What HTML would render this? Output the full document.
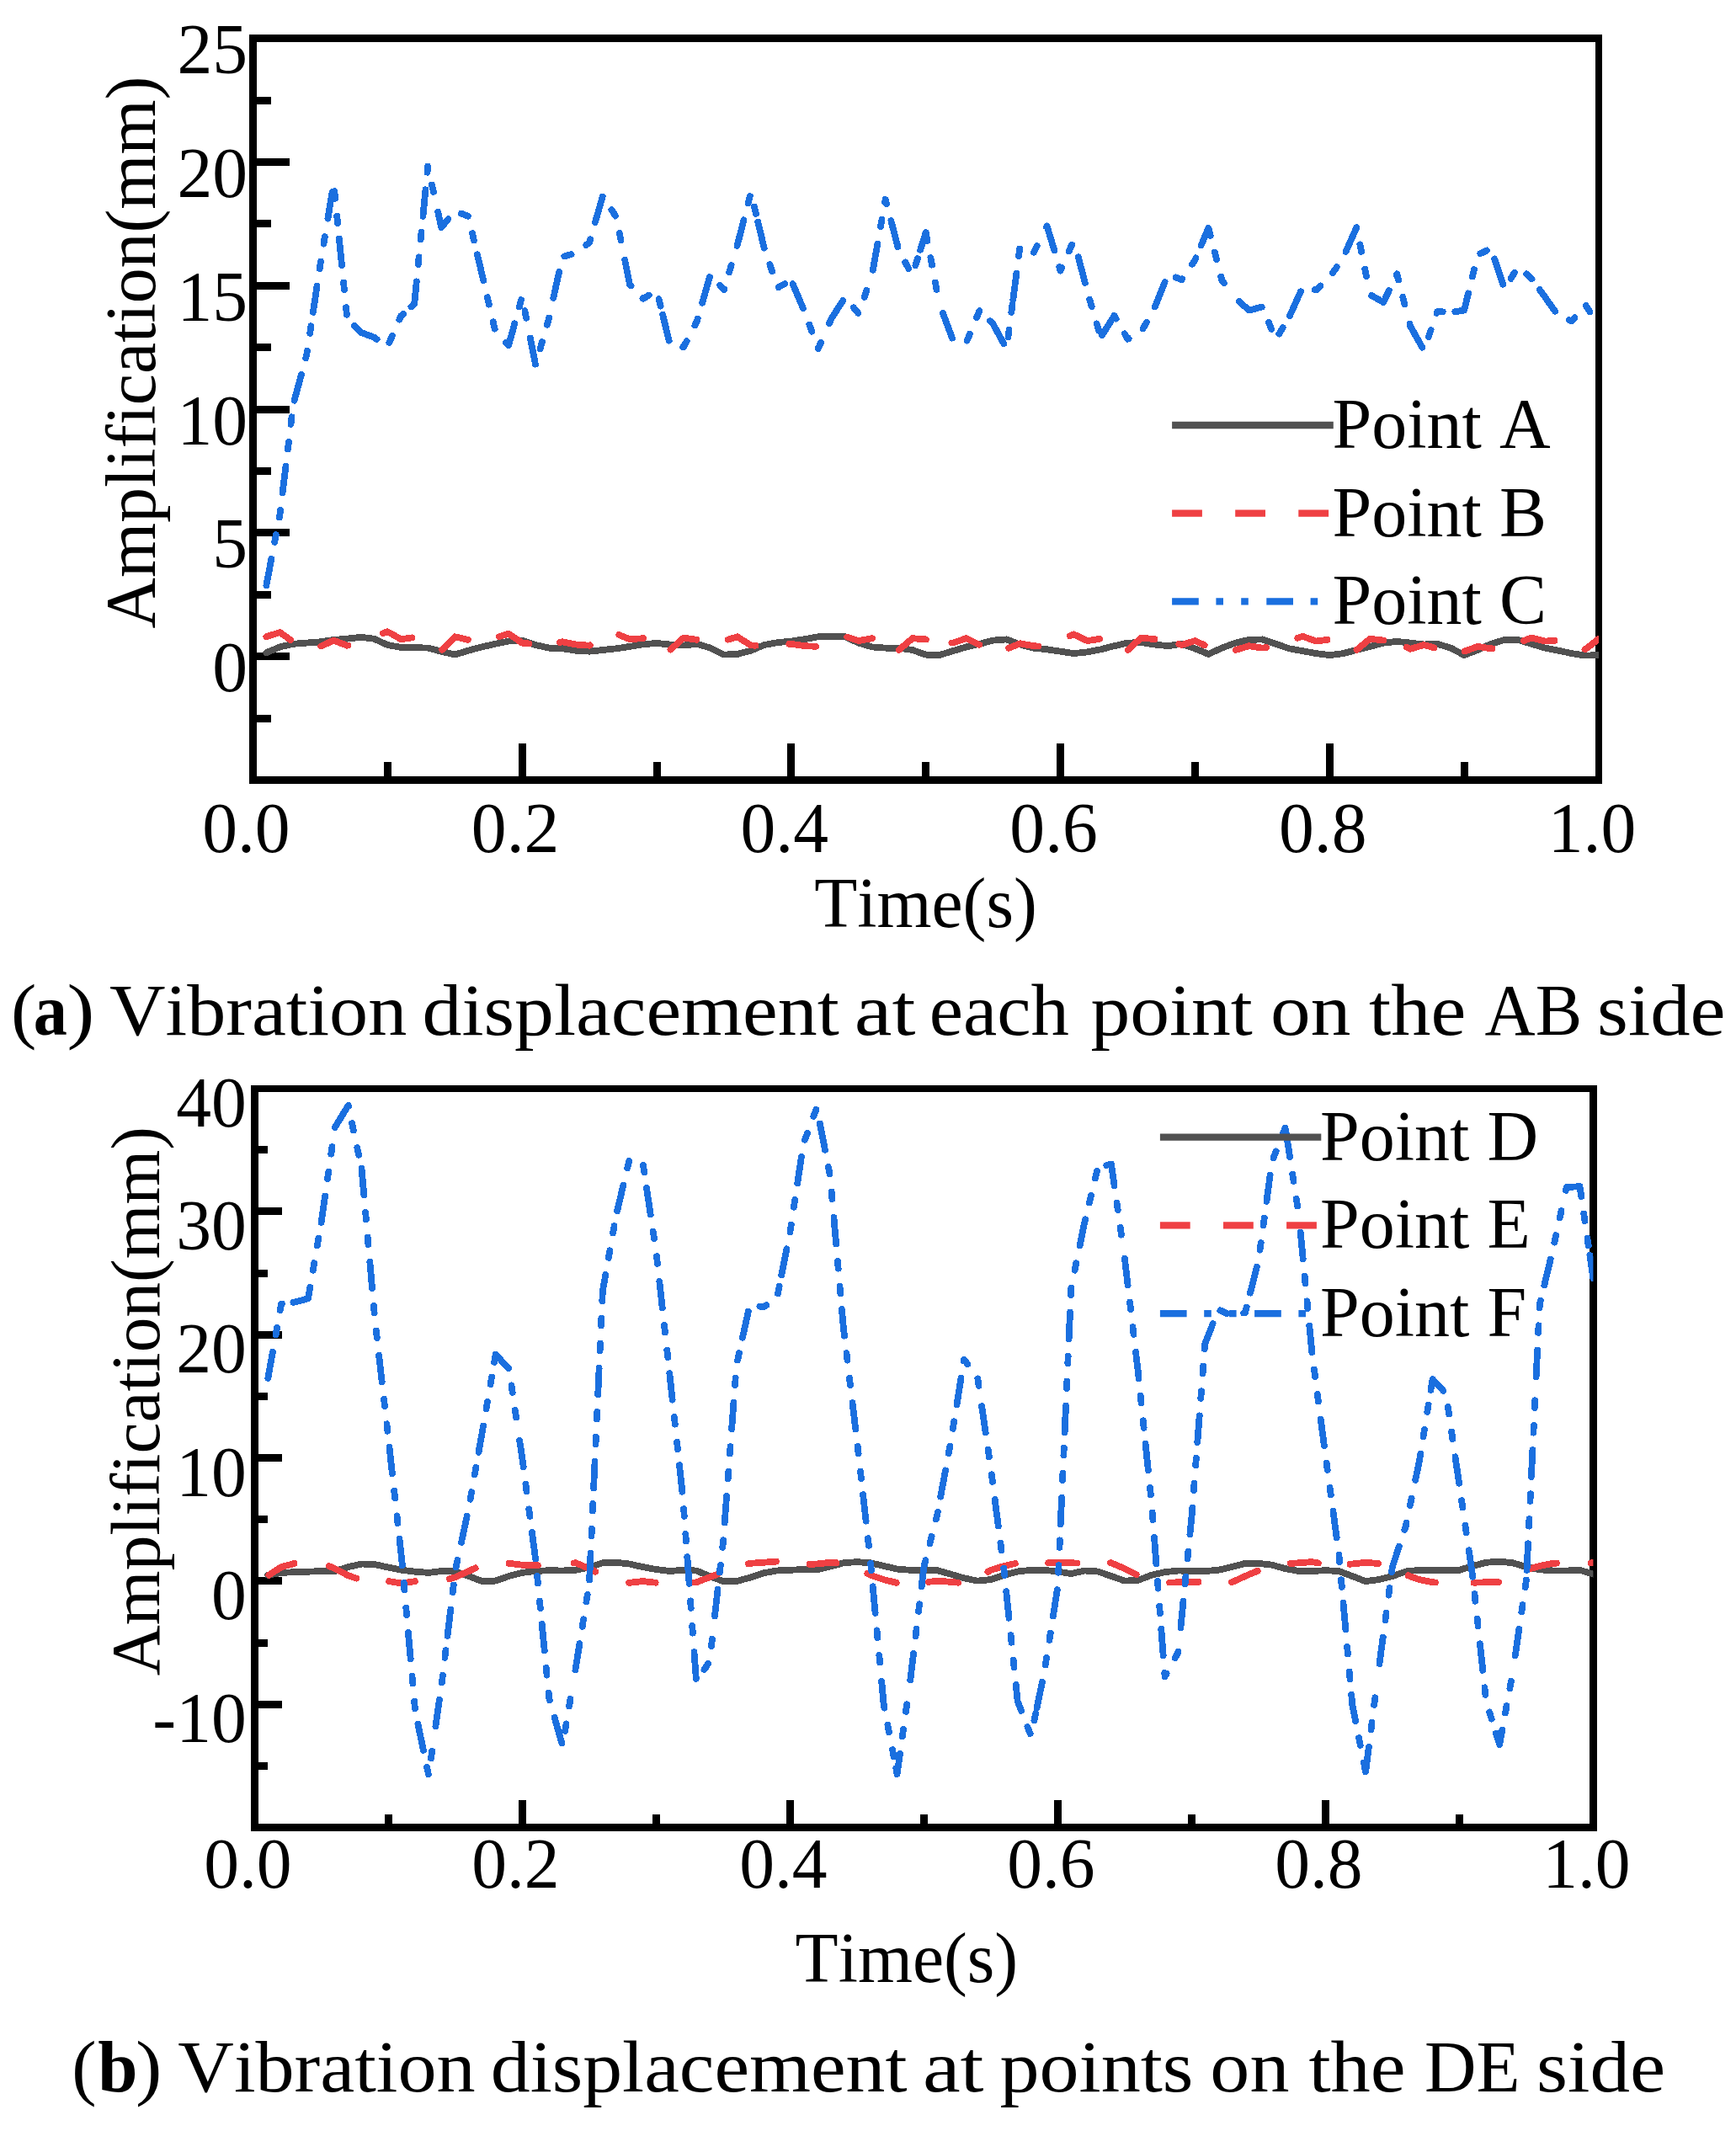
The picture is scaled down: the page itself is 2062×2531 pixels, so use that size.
<!DOCTYPE html>
<html lang="en"><head><meta charset="utf-8"><title>Vibration displacement</title>
<style>html,body{margin:0;padding:0;background:#fff}svg{display:block}text{font-family:"Liberation Serif","Times New Roman",serif;fill:#000;font-variant-ligatures:none;font-kerning:none}.t{font-size:83.6px}</style></head><body>
<svg width="2062" height="2531" viewBox="0 0 2062 2531">
<rect width="2062" height="2531" fill="#fff"/>
<g stroke="#000" stroke-width="9" fill="none" shape-rendering="crispEdges">
<line x1="300.4" y1="779.6" x2="343.9" y2="779.6"/>
<line x1="300.4" y1="632.8" x2="343.9" y2="632.8"/>
<line x1="300.4" y1="486.0" x2="343.9" y2="486.0"/>
<line x1="300.4" y1="339.3" x2="343.9" y2="339.3"/>
<line x1="300.4" y1="192.5" x2="343.9" y2="192.5"/>
<line x1="300.4" y1="853.0" x2="322.0" y2="853.0"/>
<line x1="300.4" y1="706.2" x2="322.0" y2="706.2"/>
<line x1="300.4" y1="559.4" x2="322.0" y2="559.4"/>
<line x1="300.4" y1="412.6" x2="322.0" y2="412.6"/>
<line x1="300.4" y1="265.9" x2="322.0" y2="265.9"/>
<line x1="300.4" y1="119.1" x2="322.0" y2="119.1"/>
<line x1="460.3" y1="926.3" x2="460.3" y2="904.7"/>
<line x1="620.1" y1="926.3" x2="620.1" y2="882.8"/>
<line x1="780.0" y1="926.3" x2="780.0" y2="904.7"/>
<line x1="939.8" y1="926.3" x2="939.8" y2="882.8"/>
<line x1="1099.7" y1="926.3" x2="1099.7" y2="904.7"/>
<line x1="1259.6" y1="926.3" x2="1259.6" y2="882.8"/>
<line x1="1419.4" y1="926.3" x2="1419.4" y2="904.7"/>
<line x1="1579.3" y1="926.3" x2="1579.3" y2="882.8"/>
<line x1="1739.1" y1="926.3" x2="1739.1" y2="904.7"/>
</g>
<rect x="300.4" y="45.6" width="1598.6" height="880.7" fill="none" stroke="#000" stroke-width="8.8" shape-rendering="crispEdges"/>
<clipPath id="clip1"><rect x="300.4" y="45.6" width="1598.6" height="880.7"/></clipPath>
<g fill="none" stroke-linejoin="round" stroke-linecap="round" stroke-width="7.8" shape-rendering="crispEdges" clip-path="url(#clip1)">
<path d="M316.4,775.2 L332.4,768.4 L348.4,764.8 L364.3,763.6 L380.3,762.3 L396.3,759.9 L412.3,758.7 L428.3,756.8 L444.3,758.7 L460.3,766.0 L476.2,768.9 L492.2,769.1 L508.2,769.6 L524.2,773.7 L540.2,777.6 L556.2,772.7 L572.2,768.4 L588.1,764.8 L604.1,761.6 L620.1,760.6 L636.1,766.0 L652.1,769.6 L668.1,770.3 L684.1,772.7 L700.0,773.7 L716.0,772.0 L732.0,770.3 L748.0,767.9 L764.0,765.2 L780.0,764.0 L796.0,765.5 L812.0,766.5 L827.9,764.8 L843.9,769.6 L859.9,777.6 L875.9,776.9 L891.9,772.7 L907.9,766.0 L923.9,763.1 L939.8,761.6 L955.8,759.2 L971.8,756.3 L987.8,755.6 L1003.8,756.3 L1019.8,763.6 L1035.8,768.4 L1051.7,769.6 L1067.7,769.6 L1083.7,772.0 L1099.7,777.6 L1115.7,778.1 L1131.7,773.2 L1147.7,768.4 L1163.6,764.8 L1179.6,760.6 L1195.6,759.4 L1211.6,765.5 L1227.6,769.6 L1243.6,771.3 L1259.6,773.7 L1275.5,776.1 L1291.5,774.4 L1307.5,771.3 L1323.5,767.2 L1339.5,763.6 L1355.5,763.1 L1371.5,765.5 L1387.4,767.2 L1403.4,764.8 L1419.4,770.3 L1435.4,776.9 L1451.4,769.6 L1467.4,763.6 L1483.4,759.9 L1499.3,759.4 L1515.3,764.8 L1531.3,770.3 L1547.3,773.2 L1563.3,776.1 L1579.3,778.1 L1595.3,776.1 L1611.3,772.0 L1627.2,767.9 L1643.2,763.6 L1659.2,761.9 L1675.2,763.6 L1691.2,765.5 L1707.2,764.8 L1723.2,769.6 L1739.1,778.1 L1755.1,772.0 L1771.1,764.8 L1787.1,759.9 L1803.1,759.9 L1819.1,764.8 L1835.1,769.6 L1851.0,772.7 L1867.0,776.1 L1883.0,778.6 L1899.0,778.1" stroke="#515151"/>
<g stroke="#EF4043">
<path d="M316.4,756.3 L332.4,751.0 L345.1,760.0"/>
<path d="M381.2,767.5 L396.3,760.6 L412.3,766.7 L413.4,766.6"/>
<path d="M455.0,752.2 L460.3,750.2 L476.2,759.2 L489.1,757.4"/>
<path d="M525.2,771.7 L540.2,756.3 L555.7,759.8"/>
<path d="M592.9,756.1 L604.1,752.7 L620.1,763.6 L628.2,764.5"/>
<path d="M665.0,762.9 L668.1,762.3 L684.1,765.5 L700.0,766.7 L700.8,766.4"/>
<path d="M735.3,754.0 L748.0,759.2 L764.0,758.2 L764.0,758.2"/>
<path d="M796.5,771.5 L812.0,757.5 L827.4,759.8"/>
<path d="M864.7,759.7 L875.9,756.3 L891.9,766.5 L897.6,766.7"/>
<path d="M937.3,764.8 L939.8,764.8 L955.8,767.2 L969.0,767.8"/>
<path d="M1006.2,756.6 L1019.8,761.1 L1035.8,758.2 L1036.0,758.3"/>
<path d="M1067.9,771.9 L1083.7,758.2 L1099.7,759.4 L1100.0,759.5"/>
<path d="M1130.4,763.5 L1131.7,763.6 L1147.7,758.2 L1163.1,765.7"/>
<path d="M1198.2,769.8 L1211.6,764.3 L1227.6,767.2 L1233.5,767.6"/>
<path d="M1270.8,755.3 L1275.5,753.4 L1291.5,761.1 L1306.0,758.9"/>
<path d="M1339.7,771.8 L1355.5,757.5 L1371.4,759.2"/>
<path d="M1400.2,765.0 L1403.4,766.0 L1419.4,761.1 L1430.6,766.2"/>
<path d="M1467.9,771.9 L1483.4,767.2 L1499.3,769.6 L1504.0,769.2"/>
<path d="M1541.3,757.8 L1547.3,755.8 L1563.3,761.6 L1576.6,759.8"/>
<path d="M1611.5,771.8 L1627.2,758.7 L1643.1,760.6"/>
<path d="M1670.8,768.8 L1675.2,770.8 L1691.2,766.0 L1703.6,769.4"/>
<path d="M1739.7,773.5 L1755.1,767.9 L1771.1,770.3 L1772.6,770.3"/>
<path d="M1809.9,761.0 L1819.1,757.5 L1835.1,761.6 L1846.4,760.9"/>
<path d="M1882.5,771.1 L1883.0,771.3 L1899.0,758.7"/>
</g>
<g stroke="#1A6FDF" stroke-dasharray="31.7 20.6 8.6 21.2 8.6 300">
<path d="M316.4,695.1 L332.4,611.5 L335.6,585.3"/>
<path d="M335.6,585.3 L348.4,480.0 L349.6,475.6"/>
<path d="M349.6,475.6 L364.3,421.3 L371.9,370.8"/>
<path d="M371.9,370.8 L380.3,314.9 L389.4,259.6"/>
<path d="M389.4,259.6 L396.3,217.5 L402.9,283.5"/>
<path d="M402.9,283.5 L412.3,377.8 L421.0,387.0"/>
<path d="M421.0,387.0 L428.3,394.7 L444.3,400.7 L460.3,411.6 L476.2,375.3 L488.4,364.3"/>
<path d="M488.4,364.3 L492.2,360.8 L502.4,256.8"/>
<path d="M502.4,256.8 L508.2,197.5 L520.1,251.6"/>
<path d="M520.1,251.6 L524.2,270.1 L540.2,250.7 L556.2,256.8 L566.9,302.3"/>
<path d="M566.9,302.3 L572.2,324.5 L588.1,392.3 L601.0,406.8"/>
<path d="M601.0,406.8 L604.1,410.4 L620.1,352.4 L629.8,401.5"/>
<path d="M629.8,401.5 L636.1,433.4 L652.1,377.8 L657.3,354.0"/>
<path d="M657.3,354.0 L668.1,305.2 L684.1,300.3 L700.0,288.2 L707.0,264.0"/>
<path d="M707.0,264.0 L716.0,232.6 L732.0,258.0 L742.2,308.8"/>
<path d="M742.2,308.8 L748.0,337.8 L764.0,354.8 L780.0,345.1 L787.1,373.8"/>
<path d="M787.1,373.8 L796.0,409.7 L812.0,412.1 L827.9,381.4 L834.2,359.7"/>
<path d="M834.2,359.7 L843.9,325.7 L859.9,344.4 L875.5,292.0"/>
<path d="M875.5,292.0 L875.9,290.7 L891.9,229.0 L900.3,263.8"/>
<path d="M900.3,263.8 L907.9,295.5 L923.9,341.5 L939.8,333.0 L941.6,337.2"/>
<path d="M941.6,337.2 L955.8,370.5 L971.8,414.1 L985.0,384.2"/>
<path d="M985.0,384.2 L987.8,377.8 L1003.8,353.1 L1019.8,372.4 L1035.8,326.9 L1036.8,320.8"/>
<path d="M1036.8,320.8 L1051.7,236.9 L1058.4,262.3"/>
<path d="M1058.4,262.3 L1067.7,297.9 L1083.7,326.9 L1093.2,296.8"/>
<path d="M1093.2,296.8 L1099.7,276.1 L1115.7,360.8 L1119.9,371.9"/>
<path d="M1119.9,371.9 L1131.7,403.2 L1147.7,406.8 L1163.6,368.6 L1176.0,381.3"/>
<path d="M1176.0,381.3 L1179.6,385.0 L1195.6,414.1 L1203.3,355.9"/>
<path d="M1203.3,355.9 L1211.6,292.6 L1227.6,300.3 L1243.0,269.6"/>
<path d="M1243.0,269.6 L1243.6,268.4 L1259.6,321.6 L1275.5,285.3 L1280.8,305.3"/>
<path d="M1280.8,305.3 L1291.5,346.3 L1307.5,400.7 L1309.0,398.3"/>
<path d="M1309.0,398.3 L1323.5,374.9 L1339.5,402.7 L1355.5,394.2 L1371.5,365.7 L1371.9,364.5"/>
<path d="M1371.9,364.5 L1387.4,325.3 L1403.4,332.3 L1419.4,308.8 L1426.7,291.5"/>
<path d="M1426.7,291.5 L1435.4,270.8 L1451.4,333.0 L1467.4,353.6 L1471.8,357.7"/>
<path d="M1471.8,357.7 L1483.4,368.6 L1499.3,364.5 L1515.3,403.2 L1531.3,376.5 L1531.9,375.2"/>
<path d="M1531.9,375.2 L1547.3,341.0 L1563.3,344.4 L1579.3,329.4 L1595.3,306.4 L1598.5,299.0"/>
<path d="M1598.5,299.0 L1611.3,270.1 L1627.2,349.9 L1629.2,351.0"/>
<path d="M1629.2,351.0 L1643.2,359.1 L1659.2,325.3 L1674.5,384.8"/>
<path d="M1674.5,384.8 L1675.2,387.4 L1691.2,416.0 L1707.2,370.0 L1723.2,371.0 L1728.3,370.2"/>
<path d="M1728.3,370.2 L1739.1,368.6 L1755.1,302.8 L1771.1,295.0 L1775.2,307.5"/>
<path d="M1775.2,307.5 L1787.1,343.4 L1803.1,316.8 L1819.1,330.6 L1828.7,343.9"/>
<path d="M1828.7,343.9 L1835.1,352.8 L1851.0,375.3 L1867.0,381.4 L1883.0,362.0 L1899.0,386.2"/>
</g>
</g>
<g class="t">
<text x="294" y="87.2" text-anchor="end">25</text>
<text x="294" y="234.0" text-anchor="end">20</text>
<text x="294" y="380.8" text-anchor="end">15</text>
<text x="294" y="527.5" text-anchor="end">10</text>
<text x="294" y="674.3" text-anchor="end">5</text>
<text x="294" y="821.1" text-anchor="end">0</text>
<text x="292.4" y="1012" text-anchor="middle">0.0</text>
<text x="612.1" y="1012" text-anchor="middle">0.2</text>
<text x="931.8" y="1012" text-anchor="middle">0.4</text>
<text x="1251.6" y="1012" text-anchor="middle">0.6</text>
<text x="1571.3" y="1012" text-anchor="middle">0.8</text>
<text x="1891.0" y="1012" text-anchor="middle">1.0</text>
<text x="1099.5" y="1101" text-anchor="middle">Time(s)</text>
<text transform="translate(183.9,746.4) rotate(-90)" style="font-size:83.75px">Amplification(mm)</text>
<line x1="1392.1" y1="505.0" x2="1583.8" y2="505.0" stroke="#515151" stroke-width="8.3"/>
<text x="1582.5" y="532.0" style="font-size:84px">Point A</text>
<line x1="1392.1" y1="609.7" x2="1583.8" y2="609.7" stroke="#EF4043" stroke-width="8.3" stroke-dasharray="35.8 39.3"/>
<text x="1582.5" y="636.7" style="font-size:84px">Point B</text>
<line x1="1392.1" y1="714.4" x2="1583.8" y2="714.4" stroke="#1A6FDF" stroke-width="8.3" stroke-dasharray="31.7 20.6 8.6 21.2 8.6 21.5"/>
<text x="1582.5" y="741.4" style="font-size:84px">Point C</text>
</g>
<g stroke="#000" stroke-width="9" fill="none" shape-rendering="crispEdges">
<line x1="302.4" y1="2024.1" x2="335.0" y2="2024.1"/>
<line x1="302.4" y1="1877.8" x2="335.0" y2="1877.8"/>
<line x1="302.4" y1="1731.5" x2="335.0" y2="1731.5"/>
<line x1="302.4" y1="1585.2" x2="335.0" y2="1585.2"/>
<line x1="302.4" y1="1438.9" x2="335.0" y2="1438.9"/>
<line x1="302.4" y1="2097.2" x2="317.7" y2="2097.2"/>
<line x1="302.4" y1="1951.0" x2="317.7" y2="1951.0"/>
<line x1="302.4" y1="1804.6" x2="317.7" y2="1804.6"/>
<line x1="302.4" y1="1658.3" x2="317.7" y2="1658.3"/>
<line x1="302.4" y1="1512.0" x2="317.7" y2="1512.0"/>
<line x1="302.4" y1="1365.8" x2="317.7" y2="1365.8"/>
<line x1="461.4" y1="2170.5" x2="461.4" y2="2155.2"/>
<line x1="620.4" y1="2170.5" x2="620.4" y2="2137.9"/>
<line x1="779.4" y1="2170.5" x2="779.4" y2="2155.2"/>
<line x1="938.4" y1="2170.5" x2="938.4" y2="2137.9"/>
<line x1="1097.4" y1="2170.5" x2="1097.4" y2="2155.2"/>
<line x1="1256.4" y1="2170.5" x2="1256.4" y2="2137.9"/>
<line x1="1415.4" y1="2170.5" x2="1415.4" y2="2155.2"/>
<line x1="1574.4" y1="2170.5" x2="1574.4" y2="2137.9"/>
<line x1="1733.4" y1="2170.5" x2="1733.4" y2="2155.2"/>
</g>
<rect x="302.4" y="1293.0" width="1590.0" height="877.5" fill="none" stroke="#000" stroke-width="8.6" shape-rendering="crispEdges"/>
<clipPath id="clip2"><rect x="302.4" y="1293.0" width="1590.0" height="877.5"/></clipPath>
<g fill="none" stroke-linejoin="round" stroke-linecap="round" stroke-width="7.8" shape-rendering="crispEdges" clip-path="url(#clip2)">
<path d="M318.3,1870.8 L334.2,1867.9 L350.1,1867.2 L366.0,1866.7 L381.9,1866.0 L397.8,1866.0 L413.7,1861.1 L429.6,1857.5 L445.5,1858.2 L461.4,1861.6 L477.3,1864.8 L493.2,1866.7 L509.1,1867.9 L525.0,1866.0 L540.9,1866.5 L556.8,1872.0 L572.7,1878.1 L588.6,1877.6 L604.5,1872.0 L620.4,1867.9 L636.3,1866.0 L652.2,1865.2 L668.1,1865.5 L684.0,1864.8 L699.9,1861.6 L715.8,1856.3 L731.7,1855.8 L747.6,1857.5 L763.5,1861.1 L779.4,1864.0 L795.3,1866.0 L811.2,1864.8 L827.1,1865.5 L843.0,1872.0 L858.9,1878.1 L874.8,1878.1 L890.7,1873.7 L906.6,1868.4 L922.5,1865.5 L938.4,1864.8 L954.3,1864.0 L970.2,1864.3 L986.1,1860.6 L1002.0,1856.3 L1017.9,1855.1 L1033.8,1856.3 L1049.7,1859.9 L1065.6,1863.6 L1081.5,1864.8 L1097.4,1865.0 L1113.3,1865.2 L1129.2,1869.6 L1145.1,1874.4 L1161.0,1877.6 L1176.9,1876.1 L1192.8,1870.8 L1208.7,1866.5 L1224.6,1864.8 L1240.5,1864.8 L1256.4,1866.5 L1272.3,1869.1 L1288.2,1865.5 L1304.1,1866.5 L1320.0,1872.0 L1335.9,1877.6 L1351.8,1876.9 L1367.7,1870.8 L1383.6,1867.2 L1399.5,1865.5 L1415.4,1866.0 L1431.3,1866.0 L1447.2,1864.8 L1463.1,1861.1 L1479.0,1856.8 L1494.9,1856.8 L1510.8,1858.7 L1526.7,1863.1 L1542.6,1866.0 L1558.5,1866.0 L1574.4,1865.2 L1590.3,1866.0 L1606.2,1872.0 L1622.1,1878.1 L1638.0,1876.1 L1653.9,1872.0 L1669.8,1866.5 L1685.7,1864.8 L1701.6,1864.8 L1717.5,1864.8 L1733.4,1864.8 L1749.3,1859.9 L1765.2,1855.8 L1781.1,1854.6 L1797.0,1856.3 L1812.9,1861.1 L1828.8,1864.3 L1844.7,1865.5 L1860.6,1865.5 L1876.5,1864.8 L1892.4,1869.6" stroke="#515151"/>
<g stroke="#EF4043">
<path d="M319.4,1870.8 L334.2,1861.1 L349.4,1857.0"/>
<path d="M390.8,1860.1 L397.8,1863.1 L413.7,1871.3 L423.4,1874.7"/>
<path d="M462.2,1878.2 L477.3,1880.5 L492.9,1878.1"/>
<path d="M534.0,1875.3 L540.9,1873.2 L556.8,1866.0 L564.7,1862.4"/>
<path d="M604.4,1856.8 L604.5,1856.8 L620.4,1858.7 L636.3,1859.4 L638.8,1859.3"/>
<path d="M681.9,1856.4 L684.0,1856.3 L699.9,1863.1 L707.3,1866.7"/>
<path d="M747.2,1879.7 L747.6,1879.8 L763.5,1878.1 L778.7,1879.7"/>
<path d="M824.7,1879.5 L827.1,1879.3 L843.0,1873.2 L853.0,1869.4"/>
<path d="M888.8,1857.2 L890.7,1856.8 L906.6,1855.8 L921.9,1854.6"/>
<path d="M961.4,1857.9 L970.2,1857.5 L986.1,1855.8 L993.3,1856.2"/>
<path d="M1030.3,1868.9 L1033.8,1870.8 L1049.7,1876.1 L1064.7,1879.8"/>
<path d="M1102.9,1878.9 L1113.3,1877.6 L1129.2,1878.8 L1138.0,1879.7"/>
<path d="M1173.4,1866.9 L1176.9,1864.8 L1192.8,1859.9 L1205.8,1857.0"/>
<path d="M1245.2,1856.3 L1256.4,1856.3 L1272.3,1856.3 L1279.6,1856.5"/>
<path d="M1319.0,1856.3 L1320.0,1856.3 L1335.9,1863.1 L1349.7,1870.2"/>
<path d="M1389.2,1879.6 L1399.5,1879.3 L1415.4,1879.3 L1423.5,1879.0"/>
<path d="M1463.0,1879.3 L1463.1,1879.3 L1479.0,1872.0 L1493.7,1865.8"/>
<path d="M1532.7,1857.0 L1542.6,1856.3 L1558.5,1855.1 L1565.8,1856.5"/>
<path d="M1603.4,1857.8 L1606.2,1857.5 L1622.1,1855.8 L1637.2,1857.0"/>
<path d="M1672.6,1871.3 L1685.7,1876.1 L1701.6,1879.3 L1705.0,1879.5"/>
<path d="M1750.5,1879.7 L1765.2,1879.3 L1780.0,1879.3"/>
<path d="M1817.0,1863.5 L1828.8,1859.9 L1844.7,1856.8 L1848.9,1856.6"/>
<path d="M1889.6,1856.4 L1892.0,1856.3"/>
</g>
<g stroke="#1A6FDF" stroke-dasharray="31.7 20.6 8.6 21.2 8.6 300">
<path d="M318.3,1637.0 L334.2,1548.5 L348.4,1546.8"/>
<path d="M348.4,1546.8 L350.1,1546.6 L366.0,1542.3 L381.6,1451.9"/>
<path d="M381.6,1451.9 L381.9,1450.0 L397.8,1339.1"/>
<path d="M397.8,1339.1 L397.8,1339.0 L413.7,1312.9 L429.4,1387.7"/>
<path d="M429.4,1387.7 L429.6,1388.8 L439.3,1498.7"/>
<path d="M439.3,1498.7 L445.5,1568.8 L450.1,1609.7"/>
<path d="M450.1,1609.7 L461.4,1709.0 L462.5,1718.8"/>
<path d="M462.5,1718.8 L474.5,1827.9"/>
<path d="M474.5,1827.9 L477.3,1853.2 L484.9,1938.9"/>
<path d="M484.9,1938.9 L493.2,2032.4 L496.4,2047.7"/>
<path d="M496.4,2047.7 L509.1,2108.3 L517.4,2050.1"/>
<path d="M517.4,2050.1 L525.0,1997.3 L531.5,1942.9"/>
<path d="M531.5,1942.9 L540.9,1864.9 L548.0,1831.9"/>
<path d="M548.0,1831.9 L556.8,1790.8 L568.5,1724.8"/>
<path d="M568.5,1724.8 L572.7,1701.3 L587.1,1617.9"/>
<path d="M587.1,1617.9 L588.6,1608.9 L604.5,1625.3 L617.2,1711.0"/>
<path d="M617.2,1711.0 L620.4,1732.4 L631.9,1820.0"/>
<path d="M631.9,1820.0 L636.3,1853.2 L643.7,1929.0"/>
<path d="M643.7,1929.0 L652.2,2016.8 L658.7,2040.0"/>
<path d="M658.7,2040.0 L668.1,2073.3 L683.4,1983.5"/>
<path d="M683.4,1983.5 L684.0,1979.8 L699.9,1880.4 L700.1,1876.6"/>
<path d="M700.1,1876.6 L705.1,1767.5"/>
<path d="M705.1,1767.5 L710.2,1656.4"/>
<path d="M710.2,1656.4 L715.3,1545.5"/>
<path d="M715.3,1545.5 L715.8,1533.7 L731.7,1444.1 L733.1,1438.3"/>
<path d="M733.1,1438.3 L747.6,1377.1 L763.5,1381.0 L768.0,1411.0"/>
<path d="M768.0,1411.0 L779.4,1487.0 L783.3,1522.0"/>
<path d="M783.3,1522.0 L795.3,1631.1 L795.3,1631.1"/>
<path d="M795.3,1631.1 L807.0,1740.2"/>
<path d="M807.0,1740.2 L811.2,1779.2 L816.3,1849.2"/>
<path d="M816.3,1849.2 L824.5,1962.2"/>
<path d="M824.5,1962.2 L827.1,1997.3 L843.0,1973.2 L849.0,1919.4"/>
<path d="M849.0,1919.4 L858.9,1831.8 L860.7,1808.5"/>
<path d="M860.7,1808.5 L869.1,1697.3"/>
<path d="M869.1,1697.3 L874.8,1621.4 L882.0,1588.7"/>
<path d="M882.0,1588.7 L890.7,1549.3 L906.6,1552.4 L922.5,1543.5 L928.3,1514.4"/>
<path d="M928.3,1514.4 L938.4,1463.6 L947.2,1405.3"/>
<path d="M947.2,1405.3 L954.3,1358.4 L970.2,1315.6 L973.9,1334.6"/>
<path d="M973.9,1334.6 L986.1,1397.4 L990.4,1446.0"/>
<path d="M990.4,1446.0 L999.9,1555.1"/>
<path d="M999.9,1555.1 L1002.0,1578.5 L1012.5,1666.1"/>
<path d="M1012.5,1666.1 L1017.9,1711.0 L1025.1,1775.2"/>
<path d="M1025.1,1775.2 L1033.8,1853.2 L1036.7,1884.3"/>
<path d="M1036.7,1884.3 L1047.2,1997.1"/>
<path d="M1047.2,1997.1 L1049.7,2024.6 L1064.3,2100.3"/>
<path d="M1064.3,2100.3 L1065.6,2107.2 L1081.2,1995.4"/>
<path d="M1081.2,1995.4 L1081.5,1993.4 L1094.6,1884.5"/>
<path d="M1094.6,1884.5 L1097.4,1861.0 L1113.3,1798.6 L1117.2,1777.6"/>
<path d="M1117.2,1777.6 L1129.2,1712.9 L1136.5,1668.1"/>
<path d="M1136.5,1668.1 L1145.1,1614.8 L1161.0,1635.0 L1166.1,1670.1"/>
<path d="M1166.1,1670.1 L1176.9,1744.1 L1181.7,1781.1"/>
<path d="M1181.7,1781.1 L1192.8,1866.8 L1195.2,1890.2"/>
<path d="M1195.2,1890.2 L1206.7,2001.1"/>
<path d="M1206.7,2001.1 L1208.7,2020.7 L1224.6,2061.6 L1231.5,2028.7"/>
<path d="M1231.5,2028.7 L1240.5,1985.6 L1250.9,1919.6"/>
<path d="M1250.9,1919.6 L1256.4,1884.3 L1259.7,1810.4"/>
<path d="M1259.7,1810.4 L1264.6,1701.3"/>
<path d="M1264.6,1701.3 L1269.6,1590.3"/>
<path d="M1269.6,1590.3 L1272.3,1529.8 L1282.6,1479.4"/>
<path d="M1282.6,1479.4 L1288.2,1451.9 L1304.1,1386.5 L1314.3,1384.0"/>
<path d="M1314.3,1384.0 L1320.0,1382.6 L1335.9,1494.7"/>
<path d="M1335.9,1494.7 L1335.9,1494.8 L1349.0,1605.7"/>
<path d="M1349.0,1605.7 L1351.8,1629.2 L1360.6,1714.8"/>
<path d="M1360.6,1714.8 L1367.7,1783.1 L1371.0,1825.9"/>
<path d="M1371.0,1825.9 L1379.3,1934.9"/>
<path d="M1379.3,1934.9 L1383.6,1991.5 L1399.5,1962.2 L1402.4,1933.1"/>
<path d="M1402.4,1933.1 L1413.4,1822.2"/>
<path d="M1413.4,1822.2 L1415.4,1802.5 L1422.3,1713.0"/>
<path d="M1422.3,1713.0 L1430.8,1602.1"/>
<path d="M1430.8,1602.1 L1431.3,1596.1 L1447.2,1555.2 L1463.1,1563.0 L1479.0,1559.1 L1485.0,1535.6"/>
<path d="M1485.0,1535.6 L1494.9,1496.7 L1504.4,1426.9"/>
<path d="M1504.4,1426.9 L1510.8,1379.9 L1526.7,1339.0 L1527.3,1342.8"/>
<path d="M1527.3,1342.8 L1542.6,1442.2 L1544.7,1463.6"/>
<path d="M1544.7,1463.6 L1555.3,1574.5"/>
<path d="M1555.3,1574.5 L1558.5,1607.8 L1568.7,1685.6"/>
<path d="M1568.7,1685.6 L1574.4,1728.5 L1583.4,1794.8"/>
<path d="M1583.4,1794.8 L1590.3,1845.4 L1595.5,1903.8"/>
<path d="M1595.5,1903.8 L1605.2,2012.8"/>
<path d="M1605.2,2012.8 L1606.2,2024.6 L1621.7,2102.5"/>
<path d="M1621.7,2102.5 L1622.1,2104.4 L1638.0,1979.8 L1638.5,1976.0"/>
<path d="M1638.5,1976.0 L1653.1,1867.0"/>
<path d="M1653.1,1867.0 L1653.9,1861.0 L1669.8,1812.3 L1681.2,1757.8"/>
<path d="M1681.2,1757.8 L1685.7,1736.3 L1699.5,1650.9"/>
<path d="M1699.5,1650.9 L1701.6,1638.1 L1717.5,1655.3 L1728.5,1730.3"/>
<path d="M1728.5,1730.3 L1733.4,1763.6 L1744.7,1841.3"/>
<path d="M1744.7,1841.3 L1749.3,1872.7 L1757.9,1952.3"/>
<path d="M1757.9,1952.3 L1765.2,2020.7 L1776.9,2058.6"/>
<path d="M1776.9,2058.6 L1781.1,2072.1 L1797.0,1985.6 L1799.8,1966.3"/>
<path d="M1799.8,1966.3 L1812.9,1876.5 L1813.5,1864.9"/>
<path d="M1813.5,1864.9 L1818.9,1753.9"/>
<path d="M1818.9,1753.9 L1824.6,1635.1"/>
<path d="M1824.6,1635.1 L1828.8,1549.3 L1834.3,1526.5"/>
<path d="M1834.3,1526.5 L1844.7,1483.1 L1859.8,1413.8"/>
<path d="M1859.8,1413.8 L1860.6,1410.2 L1876.5,1409.1 L1888.4,1491.0"/>
<path d="M1888.4,1491.0 L1892.4,1518.2"/>
</g>
</g>
<g class="t">
<text x="292.8" y="1337.8" text-anchor="end">40</text>
<text x="292.8" y="1484.1" text-anchor="end">30</text>
<text x="292.8" y="1630.4" text-anchor="end">20</text>
<text x="292.8" y="1776.7" text-anchor="end">10</text>
<text x="292.8" y="1923.0" text-anchor="end">0</text>
<text x="292.8" y="2069.3" text-anchor="end">-10</text>
<text x="294.4" y="2242" text-anchor="middle">0.0</text>
<text x="612.4" y="2242" text-anchor="middle">0.2</text>
<text x="930.4" y="2242" text-anchor="middle">0.4</text>
<text x="1248.4" y="2242" text-anchor="middle">0.6</text>
<text x="1566.4" y="2242" text-anchor="middle">0.8</text>
<text x="1884.4" y="2242" text-anchor="middle">1.0</text>
<text x="944.6" y="2353.5">Time(s)</text>
<text transform="translate(189,1990.3) rotate(-90)" style="font-size:83.3px">Amplification(mm)</text>
<line x1="1377.9" y1="1350.7" x2="1569.3" y2="1350.7" stroke="#515151" stroke-width="8.3"/>
<text x="1568" y="1377.7" style="font-size:84px">Point D</text>
<line x1="1377.9" y1="1455.4" x2="1569.3" y2="1455.4" stroke="#EF4043" stroke-width="8.3" stroke-dasharray="35.8 39.3"/>
<text x="1568" y="1482.4" style="font-size:84px">Point E</text>
<line x1="1377.9" y1="1560.1" x2="1569.3" y2="1560.1" stroke="#1A6FDF" stroke-width="8.3" stroke-dasharray="31.7 20.6 8.6 21.2 8.6 21.5"/>
<text x="1568" y="1587.1" style="font-size:84px">Point F</text>
</g>
<g style="font-size:86.5px;font-kerning:normal">
<text transform="translate(12.89,1229) scale(1.0541,1)">(</text>
<text transform="translate(39.69,1229) scale(0.9281,1)" font-weight="bold">a</text>
<text transform="translate(79.53,1229) scale(1.1396,1)">)</text>
<text transform="translate(129.97,1229) scale(1.0659,1)">Vibration</text>
<text transform="translate(501.57,1229) scale(1.0851,1)">displacement</text>
<text transform="translate(1014.70,1229) scale(1.1639,1)">at</text>
<text transform="translate(1103.83,1229) scale(1.0477,1)">each</text>
<text transform="translate(1295.38,1229) scale(1.0826,1)">point</text>
<text transform="translate(1509.11,1229) scale(1.1021,1)">on</text>
<text transform="translate(1626.08,1229) scale(1.0905,1)">the</text>
<text transform="translate(1763.59,1229) scale(0.9619,1)">AB</text>
<text transform="translate(1897.09,1229) scale(1.0933,1)">side</text>
</g>
<g style="font-size:86.5px;font-kerning:normal">
<text transform="translate(85.13,2484) scale(1.0180,1)">(</text>
<text transform="translate(116.21,2484) scale(0.9826,1)" font-weight="bold">b</text>
<text transform="translate(160.97,2484) scale(1.0901,1)">)</text>
<text transform="translate(211.37,2484) scale(1.0656,1)">Vibration</text>
<text transform="translate(582.78,2484) scale(1.0842,1)">displacement</text>
<text transform="translate(1095.90,2484) scale(1.1639,1)">at</text>
<text transform="translate(1187.47,2484) scale(1.0877,1)">points</text>
<text transform="translate(1437.36,2484) scale(1.0874,1)">on</text>
<text transform="translate(1554.38,2484) scale(1.0896,1)">the</text>
<text transform="translate(1692.05,2484) scale(0.9843,1)">DE</text>
<text transform="translate(1825.07,2484) scale(1.0993,1)">side</text>
</g>
</svg></body></html>
